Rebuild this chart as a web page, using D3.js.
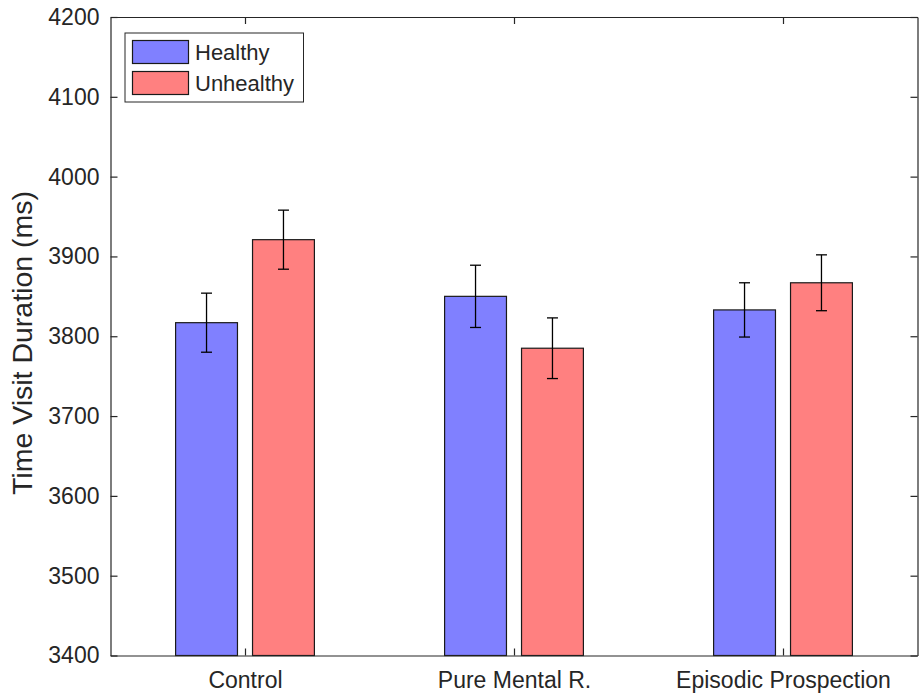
<!DOCTYPE html>
<html>
	<head>
		<meta charset="UTF-8">
        <title></title>
        <script src="https://d3js.org/d3.v7.min.js"></script>
        <style>
            body { margin: 0; background: #fff; }
            text { font-family: "Liberation Sans", Arial, sans-serif; fill: #262626; }
        </style>
	</head>
	<body>
        <div id="my_dataviz"></div>
        <script>
            // data
            var categories = ["Control", "Pure Mental R.", "Episodic Prospection"];
            var groups = ["Healthy", "Unhealthy"];
            var healthy = [3817, 3850, 3833];
            var unhealthy = [3921, 3785, 3867];
            var healthyErr = [37, 39, 34];
            var unhealthyErr = [37, 38, 35];
            var yTicks = [3400, 3500, 3600, 3700, 3800, 3900, 4000, 4100, 4200];
            var colors = ["#8080ff", "#ff8080"];

            var W = 920, H = 694;
            var margin = {left: 110.5, right: 917.5, top: 17, bottom: 655.5};

            var svg = d3.select("#my_dataviz")
            .append("svg")
            .attr("width", W)
            .attr("height", H);

            var x = d3.scaleLinear().domain([0.5, 3.5]).range([margin.left, margin.right]);
            var y = d3.scaleLinear().domain([3400, 4200]).range([margin.bottom, margin.top]);

            var offset = 0.143, barW = 0.23;
            var series = [healthy, unhealthy];
            var errs = [healthyErr, unhealthyErr];

            // bars
            series.forEach(function(vals, s) {
                var off = s === 0 ? -offset : offset;
                svg.append("g").selectAll("rect")
                .data(vals)
                .enter().append("rect")
                .attr("x", function(d, i) { return x(i + 1 + off - barW / 2); })
                .attr("width", x(barW) - x(0))
                .attr("y", function(d) { return y(d); })
                .attr("height", function(d) { return y(3400) - y(d); })
                .attr("fill", colors[s])
                .attr("stroke", "#1a1a1a")
                .attr("stroke-width", 1.2);
            });

            // error bars
            series.forEach(function(vals, s) {
                var off = s === 0 ? -offset : offset;
                var g = svg.append("g").attr("stroke", "#000").attr("stroke-width", 1.3);
                vals.forEach(function(v, i) {
                    var cx = x(i + 1 + off), e = errs[s][i];
                    g.append("line").attr("x1", cx).attr("x2", cx).attr("y1", y(v - e)).attr("y2", y(v + e));
                    g.append("line").attr("x1", cx - 5.5).attr("x2", cx + 5.5).attr("y1", y(v - e)).attr("y2", y(v - e));
                    g.append("line").attr("x1", cx - 5.5).attr("x2", cx + 5.5).attr("y1", y(v + e)).attr("y2", y(v + e));
                });
            });

            // axes (box with inward ticks)
            var axCol = "#262626";
            svg.append("g")
            .attr("transform", "translate(0," + margin.bottom + ")")
            .call(d3.axisBottom(x).tickValues([1, 2, 3]).tickFormat(function(d) { return categories[d - 1]; }).tickSizeInner(-7).tickSizeOuter(0).tickPadding(16))
            .call(function(g) { g.selectAll("text").style("font-size", "23px"); });
            svg.append("g")
            .attr("transform", "translate(0," + margin.top + ")")
            .call(d3.axisTop(x).tickValues([1, 2, 3]).tickFormat("").tickSizeInner(-7).tickSizeOuter(0));
            svg.append("g")
            .attr("transform", "translate(" + margin.left + ",0)")
            .call(d3.axisLeft(y).tickValues(yTicks).tickFormat(d3.format("d")).tickSizeInner(-7).tickSizeOuter(0).tickPadding(11))
            .call(function(g) { g.selectAll("text").style("font-size", "23px"); });
            svg.append("g")
            .attr("transform", "translate(" + margin.right + ",0)")
            .call(d3.axisRight(y).tickValues(yTicks).tickFormat("").tickSizeInner(-7).tickSizeOuter(0));
            svg.selectAll(".domain, .tick line").attr("stroke", axCol).attr("stroke-width", 1.2);
            svg.selectAll(".tick text").attr("fill", axCol);

            // y label
            svg.append("text")
            .attr("transform", "translate(22," + 343 + ") rotate(-90)")
            .attr("text-anchor", "middle")
            .attr("dy", "0.35em")
            .style("font-size", "28.5px")
            .text("Time Visit Duration (ms)");

            // legend
            var lg = svg.append("g").attr("transform", "translate(125,33)");
            lg.append("rect").attr("width", 178.5).attr("height", 69)
            .attr("fill", "#fff").attr("stroke", axCol).attr("stroke-width", 1);
            groups.forEach(function(name, i) {
                lg.append("rect").attr("x", 7.5).attr("y", 7.5 + i * 31).attr("width", 56).attr("height", 23)
                .attr("fill", colors[i]).attr("stroke", "#1a1a1a").attr("stroke-width", 1.2);
                lg.append("text").attr("x", 70).attr("y", 19 + i * 31).attr("dy", "0.35em")
                .style("font-size", "22px").text(name);
            });
        </script>
	</body>
</html>
